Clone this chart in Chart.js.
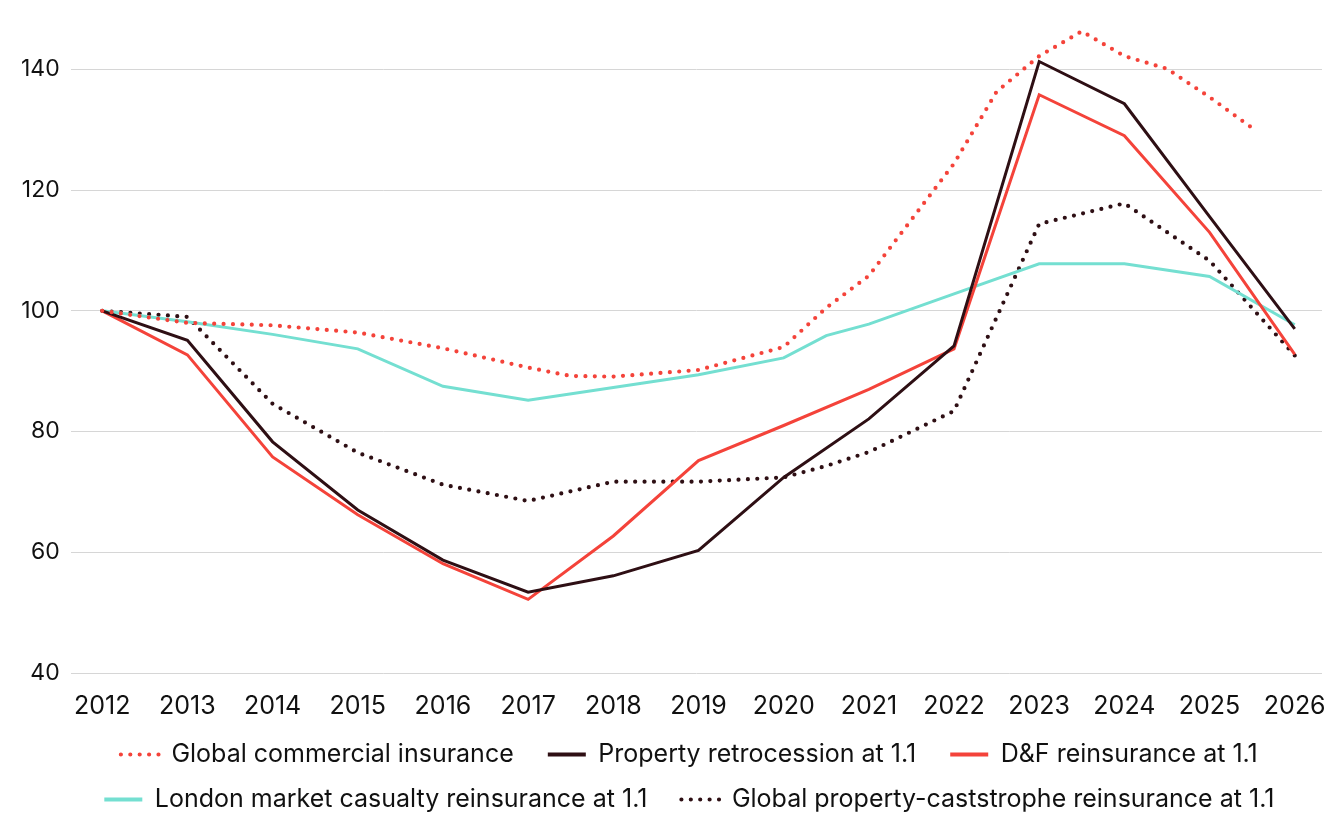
<!DOCTYPE html>
<html>
<head>
<meta charset="utf-8">
<script src="https://cdn.jsdelivr.net/npm/chart.js@4.4.1/dist/chart.umd.min.js"></script>
<style>
  html, body { margin: 0; padding: 0; background: #fff; }
  #wrap { width: 1336px; height: 826px; }
</style>
</head>
<body>
<div id="wrap"><canvas id="rates-chart"></canvas></div>
<script>
// price indices, 2012 = 100
const yearTicks = [2012, 2013, 2014, 2015, 2016, 2017, 2018, 2019, 2020, 2021, 2022, 2023, 2024, 2025, 2026];
const yTicks = [40, 60, 80, 100, 120, 140];

const commercialYears = [2012, 2013, 2014, 2015, 2016, 2017, 2017.5, 2018, 2019, 2020, 2020.5, 2021, 2022, 2022.5, 2023, 2023.5, 2024, 2024.5, 2025, 2025.5];
const commercialValues = [100, 98, 97.6, 96.4, 93.8, 90.6, 89.2, 89.1, 90.2, 94.0, 100.5, 105.8, 124.4, 136.3, 142.2, 146.3, 142.2, 140.1, 135.4, 130.3];

const annualYears = [2012, 2013, 2014, 2015, 2016, 2017, 2018, 2019, 2020, 2021, 2022, 2023, 2024, 2025, 2026];
const retroValues = [100, 95.1, 78.3, 67.0, 58.7, 53.4, 56.1, 60.3, 72.4, 82.1, 94.2, 141.3, 134.3, 115.6, 97.0];
const dfValues = [100, 92.7, 75.8, 66.2, 58.1, 52.2, 62.7, 75.2, 81.0, 87.0, 93.7, 135.8, 129.0, 113.0, 92.8];

const londonYears = [2012, 2013, 2014, 2015, 2016, 2017, 2018, 2019, 2020, 2020.5, 2021, 2022, 2023, 2024, 2025, 2026];
const londonValues = [100, 98.2, 96.1, 93.7, 87.5, 85.2, 87.3, 89.4, 92.2, 95.9, 97.8, 102.8, 107.8, 107.8, 105.7, 97.7];

const catYears = [2012, 2013, 2014, 2015, 2016, 2017, 2018, 2019, 2020, 2020.5, 2021, 2022, 2023, 2024, 2025, 2026];
const catValues = [100, 99.0, 84.6, 76.5, 71.2, 68.5, 71.7, 71.7, 72.4, 74.3, 76.6, 83.4, 114.4, 117.8, 108.3, 92.6];

const RED = '#f4433a';
const DARK = '#2e0f14';
const TEAL = '#74dfd1';
const FONT = 'Inter, "Noto Sans", sans-serif';

function pts(xs, ys) {
  return xs.map((x, i) => ({ x: x, y: ys[i] }));
}

const dotted = { borderWidth: 4.2, borderDash: [0, 9.4], borderCapStyle: 'round' };
const solid = { borderWidth: 3, borderCapStyle: 'butt' };

const datasets = [
  Object.assign({ label: 'Global commercial insurance', data: pts(commercialYears, commercialValues), borderColor: RED, backgroundColor: RED }, dotted),
  Object.assign({ label: 'Property retrocession at 1.1', data: pts(annualYears, retroValues), borderColor: DARK, backgroundColor: DARK }, solid),
  Object.assign({ label: 'D&F reinsurance at 1.1', data: pts(annualYears, dfValues), borderColor: RED, backgroundColor: RED }, solid),
  Object.assign({ label: 'London market casualty reinsurance at 1.1', data: pts(londonYears, londonValues), borderColor: TEAL, backgroundColor: TEAL }, solid),
  Object.assign({ label: 'Global property-caststrophe reinsurance at 1.1', data: pts(catYears, catValues), borderColor: DARK, backgroundColor: DARK }, dotted)
];

new Chart(document.getElementById('rates-chart').getContext('2d'), {
  type: 'line',
  data: { datasets: datasets },
  options: {
    responsive: true,
    maintainAspectRatio: false,
    animation: false,
    layout: { padding: { left: 10, right: 14, top: 9, bottom: 4 } },
    elements: {
      point: { radius: 0, hoverRadius: 0, pointStyle: 'line' },
      line: { tension: 0, fill: false }
    },
    plugins: {
      tooltip: { enabled: false },
      legend: {
        position: 'bottom',
        fullSize: false,
        labels: {
          usePointStyle: true,
          pointStyle: 'line',
          pointStyleWidth: 38,
          padding: 20,
          color: '#111',
          font: { family: FONT, size: 25 },
          generateLabels: function(chart) {
            const items = Chart.defaults.plugins.legend.labels.generateLabels(chart);
            items.forEach(function(it) {
              const ds = chart.data.datasets[it.datasetIndex];
              it.text = it.text + '  ';  // a bit more room between entries
              it.lineDash = ds.borderDash || [];
              it.lineCap = ds.borderCapStyle;
              it.lineWidth = ds.borderDash ? 4.2 : 4;
              it.strokeStyle = ds.borderColor;
            });
            return items;
          }
        }
      }
    },
    scales: {
      x: {
        type: 'linear',
        min: 2011.63,
        max: 2026.32,
        grid: { display: false, drawTicks: false },
        border: { display: false },
        afterBuildTicks: function(axis) {
          axis.ticks = yearTicks.map(v => ({ value: v }));
        },
        afterFit: function(axis) {
          axis.height = axis.height - 17;
          axis.paddingRight = 0;
        },
        ticks: {
          padding: 18,
          maxRotation: 0,
          color: '#111',
          font: { family: FONT, size: 25 },
          callback: v => String(v)
        }
      },
      y: {
        min: 40,
        max: 150,
        grid: { color: '#d6d6d6', lineWidth: 1, drawTicks: false },
        border: { display: false },
        afterBuildTicks: function(axis) {
          axis.ticks = yTicks.map(v => ({ value: v }));
        },
        afterFit: function(axis) {
          axis.paddingTop = 0;
          axis.paddingBottom = 0;
        },
        ticks: {
          padding: 11,
          color: '#111',
          font: { family: FONT, size: 23 }
        }
      }
    }
  }
});
</script>
</body>
</html>
